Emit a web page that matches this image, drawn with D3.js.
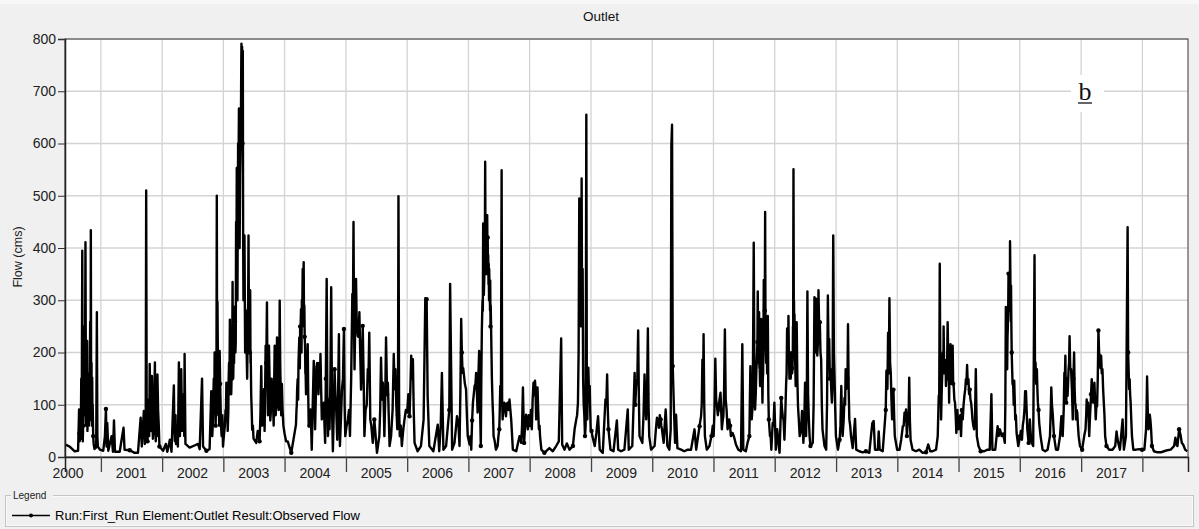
<!DOCTYPE html>
<html>
<head>
<meta charset="utf-8">
<script src="https://cdn.jsdelivr.net/npm/d3@7"></script>
<style>
  body { margin: 0; background: #f0f0f0; }
  svg { display: block; font-family: "Liberation Sans", Arial, sans-serif; }
</style>
</head>
<body>
<svg id="chart" width="1199" height="529"></svg>
<script>
// Year labels along the time axis and flow ticks on the value axis
const yearLabels = [2000, 2001, 2002, 2003, 2004, 2005, 2006, 2007, 2008, 2009,
                    2010, 2011, 2012, 2013, 2014, 2015, 2016, 2017];
const flowTicks = [0, 100, 200, 300, 400, 500, 600, 700, 800];
const periodStart = "2000-06-01";
const periodEnd = "2018-09-30";

// Observed flow at the outlet (cms): peaks and recession floors
const observedFlow = [
  ["2000-06-01",24],["2000-06-29",20],["2000-07-29",11],["2000-08-18",12],["2000-08-24",91],
  ["2000-08-28",30],["2000-09-06",150],["2000-09-12",395],["2000-09-17",60],["2000-09-23",250],
  ["2000-10-01",411],["2000-10-07",120],["2000-10-11",222],["2000-10-17",80],["2000-10-23",160],
  ["2000-10-29",259],["2000-11-02",434],["2000-11-06",180],["2000-11-10",152],["2000-11-16",40],
  ["2000-11-24",15],["2000-12-08",277],["2000-12-14",20],["2000-12-26",14],["2001-01-15",12],
  ["2001-01-25",40],["2001-01-31",92],["2001-02-04",20],["2001-02-08",65],["2001-02-14",12],
  ["2001-03-06",40],["2001-03-14",10],["2001-03-20",70],["2001-03-26",10],["2001-04-23",10],
  ["2001-05-16",56],["2001-05-22",14],["2001-06-22",13],["2001-07-21",8],["2001-08-10",8],
  ["2001-08-26",75],["2001-09-02",20],["2001-09-14",88],["2001-09-20",25],["2001-09-28",510],
  ["2001-10-03",40],["2001-10-09",60],["2001-10-19",178],["2001-10-25",50],["2001-11-01",155],
  ["2001-11-07",35],["2001-11-13",100],["2001-11-19",181],["2001-11-24",30],["2001-12-04",158],
  ["2001-12-12",60],["2001-12-16",20],["2002-01-07",12],["2002-01-23",25],["2002-02-01",10],
  ["2002-02-16",33],["2002-02-26",10],["2002-03-12",137],["2002-03-18",30],["2002-03-28",52],
  ["2002-04-05",20],["2002-04-11",181],["2002-04-17",40],["2002-04-25",168],["2002-05-01",50],
  ["2002-05-15",197],["2002-05-20",25],["2002-06-14",18],["2002-07-13",22],["2002-08-03",25],
  ["2002-08-13",15],["2002-08-27",150],["2002-09-02",20],["2002-09-22",12],["2002-10-11",15],
  ["2002-10-21",126],["2002-10-27",40],["2002-11-05",150],["2002-11-10",200],["2002-11-16",60],
  ["2002-11-23",500],["2002-11-27",297],["2002-12-02",80],["2002-12-10",203],["2002-12-18",60],
  ["2002-12-30",20],["2003-01-10",60],["2003-01-19",142],["2003-01-27",50],["2003-02-09",263],
  ["2003-02-17",120],["2003-02-25",335],["2003-03-01",150],["2003-03-08",287],["2003-03-14",200],
  ["2003-03-18",450],["2003-03-22",553],["2003-03-26",300],["2003-03-30",600],["2003-04-04",667],
  ["2003-04-08",400],["2003-04-14",594],["2003-04-18",760],["2003-04-19",791],["2003-04-23",785],
  ["2003-04-27",777],["2003-05-01",300],["2003-05-07",424],["2003-05-11",200],["2003-05-17",232],
  ["2003-05-23",150],["2003-05-31",424],["2003-06-06",250],["2003-06-10",319],["2003-06-16",120],
  ["2003-06-22",52],["2003-06-30",35],["2003-07-16",27],["2003-07-25",50],["2003-08-05",30],
  ["2003-08-15",174],["2003-08-21",60],["2003-08-29",110],["2003-09-04",50],["2003-09-10",213],
  ["2003-09-18",296],["2003-09-24",80],["2003-09-30",213],["2003-10-08",70],["2003-10-16",150],
  ["2003-10-24",104],["2003-11-03",213],["2003-11-09",80],["2003-11-17",229],["2003-11-23",120],
  ["2003-12-03",299],["2003-12-09",120],["2003-12-16",140],["2003-12-25",60],["2004-01-10",30],
  ["2004-01-20",30],["2004-02-10",8],["2004-03-09",62],["2004-03-19",149],["2004-03-29",229],
  ["2004-04-08",283],["2004-04-18",360],["2004-04-24",373],["2004-05-02",213],["2004-05-08",120],
  ["2004-05-18",216],["2004-05-24",59],["2004-06-04",91],["2004-06-11",14],["2004-06-23",184],
  ["2004-07-01",53],["2004-07-09",174],["2004-07-17",178],["2004-07-25",155],["2004-08-02",197],
  ["2004-08-10",72],["2004-08-22",104],["2004-08-30",27],["2004-09-08",341],["2004-09-16",40],
  ["2004-09-25",53],["2004-10-05",325],["2004-10-15",11],["2004-10-25",168],["2004-11-10",33],
  ["2004-11-20",235],["2004-11-26",21],["2004-12-08",129],["2004-12-20",245],["2004-12-28",40],
  ["2005-01-13",72],["2005-01-25",40],["2005-02-08",312],["2005-02-15",450],["2005-02-21",168],
  ["2005-03-02",341],["2005-03-12",232],["2005-03-22",277],["2005-04-01",129],["2005-04-11",251],
  ["2005-04-21",40],["2005-05-11",168],["2005-05-20",238],["2005-05-26",72],["2005-06-10",27],
  ["2005-06-19",72],["2005-07-05",8],["2005-07-19",40],["2005-07-29",190],["2005-08-09",142],
  ["2005-08-18",40],["2005-08-28",229],["2005-09-08",142],["2005-09-18",21],["2005-09-27",40],
  ["2005-10-13",197],["2005-10-23",168],["2005-11-03",53],["2005-11-10",499],["2005-11-18",40],
  ["2005-11-30",21],["2005-12-16",72],["2006-01-01",85],["2006-01-15",78],["2006-01-25",194],
  ["2006-02-04",187],["2006-02-14",27],["2006-03-04",11],["2006-03-24",21],["2006-04-09",72],
  ["2006-04-19",304],["2006-04-27",302],["2006-05-03",117],["2006-05-13",21],["2006-06-06",11],
  ["2006-07-02",62],["2006-07-11",11],["2006-07-27",161],["2006-08-05",14],["2006-08-21",21],
  ["2006-09-04",72],["2006-09-14",331],["2006-09-20",171],["2006-09-26",14],["2006-10-10",27],
  ["2006-10-25",78],["2006-11-09",21],["2006-11-19",264],["2006-11-27",161],["2006-12-04",161],
  ["2006-12-18",129],["2006-12-28",40],["2007-01-08",24],["2007-01-18",14],["2007-01-28",104],
  ["2007-02-07",136],["2007-02-16",161],["2007-02-25",85],["2007-03-06",203],["2007-03-16",21],
  ["2007-03-22",242],["2007-03-30",447],["2007-04-05",335],["2007-04-11",565],["2007-04-17",460],
  ["2007-04-23",463],["2007-04-29",386],["2007-05-05",360],["2007-05-11",338],["2007-05-17",232],
  ["2007-05-25",104],["2007-05-31",40],["2007-06-14",14],["2007-06-24",21],["2007-07-04",53],
  ["2007-07-10",136],["2007-07-18",549],["2007-07-24",72],["2007-08-03",104],["2007-08-13",78],
  ["2007-08-23",104],["2007-09-03",110],["2007-09-13",72],["2007-09-23",14],["2007-10-13",11],
  ["2007-11-02",40],["2007-11-12",27],["2007-11-22",133],["2007-11-29",27],["2007-12-11",81],
  ["2007-12-21",53],["2008-01-04",59],["2008-01-14",53],["2008-01-24",142],["2008-02-02",146],
  ["2008-02-09",72],["2008-02-17",133],["2008-02-25",53],["2008-03-03",40],["2008-03-11",14],
  ["2008-03-29",8],["2008-04-18",14],["2008-04-28",17],["2008-05-18",11],["2008-06-07",21],
  ["2008-06-23",30],["2008-07-07",227],["2008-07-13",24],["2008-07-27",14],["2008-08-10",26],
  ["2008-08-26",14],["2008-09-15",21],["2008-09-25",53],["2008-10-05",72],["2008-10-15",104],
  ["2008-10-23",495],["2008-10-31",424],["2008-11-06",533],["2008-11-12",360],["2008-11-18",104],
  ["2008-11-26",40],["2008-12-04",655],["2008-12-10",72],["2008-12-16",171],["2008-12-24",136],
  ["2008-12-30",53],["2009-01-09",40],["2009-01-23",21],["2009-02-02",46],["2009-02-12",78],
  ["2009-02-22",14],["2009-03-12",8],["2009-03-28",110],["2009-04-07",158],["2009-04-15",53],
  ["2009-04-27",14],["2009-05-15",11],["2009-06-04",70],["2009-06-12",14],["2009-06-29",11],
  ["2009-07-19",14],["2009-08-08",91],["2009-08-14",14],["2009-09-04",21],["2009-09-18",161],
  ["2009-09-27",136],["2009-10-09",242],["2009-10-17",40],["2009-11-03",27],["2009-11-16",158],
  ["2009-11-26",72],["2009-12-06",246],["2009-12-14",40],["2009-12-25",14],["2010-01-15",21],
  ["2010-01-29",75],["2010-02-10",56],["2010-02-20",72],["2010-02-28",53],["2010-03-10",27],
  ["2010-03-22",91],["2010-04-01",21],["2010-04-13",14],["2010-04-21",53],["2010-04-25",597],
  ["2010-04-29",636],["2010-05-03",174],["2010-05-11",85],["2010-05-17",27],["2010-05-23",81],
  ["2010-05-31",17],["2010-06-22",14],["2010-07-11",11],["2010-08-01",14],["2010-08-20",14],
  ["2010-09-10",53],["2010-09-20",14],["2010-10-10",59],["2010-10-19",78],["2010-10-27",186],
  ["2010-11-03",235],["2010-11-11",40],["2010-11-22",14],["2010-12-08",21],["2010-12-20",40],
  ["2011-01-02",40],["2011-01-12",188],["2011-01-22",97],["2011-02-01",94],["2011-02-12",123],
  ["2011-02-20",53],["2011-03-01",78],["2011-03-10",244],["2011-03-20",91],["2011-03-26",53],
  ["2011-04-05",72],["2011-04-15",40],["2011-04-25",46],["2011-05-05",37],["2011-05-15",24],
  ["2011-05-29",14],["2011-06-14",11],["2011-06-22",216],["2011-06-28",14],["2011-07-13",11],
  ["2011-07-23",27],["2011-08-03",40],["2011-08-09",174],["2011-08-17",72],["2011-08-29",410],
  ["2011-09-06",91],["2011-09-14",168],["2011-09-22",317],["2011-09-30",277],["2011-10-06",136],
  ["2011-10-14",264],["2011-10-20",104],["2011-10-28",339],["2011-11-05",469],["2011-11-13",219],
  ["2011-11-21",270],["2011-11-27",72],["2011-12-04",40],["2011-12-12",14],["2011-12-20",65],
  ["2011-12-30",104],["2012-01-08",14],["2012-01-16",53],["2012-01-30",8],["2012-02-09",113],
  ["2012-02-18",78],["2012-02-28",33],["2012-03-09",139],["2012-03-15",246],["2012-03-23",270],
  ["2012-03-31",168],["2012-04-08",174],["2012-04-16",168],["2012-04-22",551],["2012-04-28",273],
  ["2012-05-05",136],["2012-05-11",258],["2012-05-19",97],["2012-05-29",40],["2012-06-12",88],
  ["2012-06-20",27],["2012-06-30",142],["2012-07-06",40],["2012-07-14",317],["2012-07-22",78],
  ["2012-08-01",21],["2012-08-15",27],["2012-08-25",306],["2012-09-03",303],["2012-09-11",194],
  ["2012-09-18",319],["2012-09-26",258],["2012-10-04",187],["2012-10-12",53],["2012-10-24",21],
  ["2012-11-03",14],["2012-11-13",309],["2012-11-21",226],["2012-11-29",168],["2012-12-07",104],
  ["2012-12-15",424],["2012-12-23",149],["2012-12-31",40],["2013-01-12",14],["2013-01-22",33],
  ["2013-02-01",136],["2013-02-09",40],["2013-02-20",113],["2013-02-27",168],["2013-03-07",161],
  ["2013-03-13",254],["2013-03-21",72],["2013-03-31",40],["2013-04-10",17],["2013-04-24",73],
  ["2013-05-01",14],["2013-05-19",11],["2013-06-09",9],["2013-06-28",11],["2013-07-18",8],
  ["2013-07-28",40],["2013-08-05",65],["2013-08-13",69],["2013-08-21",14],["2013-09-07",14],
  ["2013-09-12",49],["2013-09-18",14],["2013-10-06",11],["2013-10-20",72],["2013-10-28",165],
  ["2013-11-07",238],["2013-11-15",304],["2013-11-23",161],["2013-12-01",72],["2013-12-09",129],
  ["2013-12-17",40],["2013-12-31",14],["2014-01-14",14],["2014-01-24",33],["2014-02-03",59],
  ["2014-02-13",85],["2014-02-22",91],["2014-02-27",40],["2014-03-07",72],["2014-03-13",152],
  ["2014-03-21",33],["2014-04-02",14],["2014-04-22",11],["2014-05-12",14],["2014-06-01",8],
  ["2014-06-21",9],["2014-07-04",24],["2014-07-16",11],["2014-07-30",11],["2014-08-20",14],
  ["2014-08-30",40],["2014-09-05",117],["2014-09-11",370],["2014-09-19",72],["2014-09-27",168],
  ["2014-10-04",250],["2014-10-10",184],["2014-10-18",136],["2014-10-28",258],["2014-11-06",104],
  ["2014-11-14",216],["2014-11-21",213],["2014-11-27",213],["2014-12-03",136],["2014-12-11",104],
  ["2014-12-19",46],["2014-12-31",53],["2015-01-06",72],["2015-01-16",40],["2015-01-26",72],
  ["2015-02-05",117],["2015-02-14",149],["2015-02-21",176],["2015-03-01",149],["2015-03-09",129],
  ["2015-03-17",104],["2015-03-25",72],["2015-04-04",53],["2015-04-14",168],["2015-04-20",40],
  ["2015-04-30",21],["2015-05-13",11],["2015-06-03",11],["2015-06-23",14],["2015-07-06",14],
  ["2015-07-16",120],["2015-07-22",14],["2015-08-08",14],["2015-08-22",59],["2015-08-28",40],
  ["2015-09-05",53],["2015-09-15",40],["2015-09-25",43],["2015-10-04",27],["2015-10-10",287],
  ["2015-10-18",168],["2015-10-26",351],["2015-11-04",413],["2015-11-10",328],["2015-11-15",187],
  ["2015-11-23",136],["2015-11-29",146],["2015-12-05",72],["2015-12-13",46],["2015-12-23",21],
  ["2016-01-03",40],["2016-01-14",33],["2016-01-24",72],["2016-02-02",126],["2016-02-07",126],
  ["2016-02-15",53],["2016-02-23",27],["2016-03-01",72],["2016-03-09",30],["2016-03-21",21],
  ["2016-03-29",386],["2016-04-04",181],["2016-04-12",168],["2016-04-18",104],["2016-04-26",65],
  ["2016-05-04",40],["2016-05-16",14],["2016-06-01",11],["2016-06-15",14],["2016-06-29",40],
  ["2016-07-07",133],["2016-07-15",85],["2016-07-23",40],["2016-08-04",14],["2016-08-16",14],
  ["2016-08-28",40],["2016-09-05",78],["2016-09-13",40],["2016-09-23",161],["2016-09-29",194],
  ["2016-10-04",104],["2016-10-12",117],["2016-10-18",168],["2016-10-24",231],["2016-11-02",168],
  ["2016-11-12",72],["2016-11-20",200],["2016-11-26",104],["2016-12-01",72],["2016-12-09",85],
  ["2016-12-17",40],["2016-12-25",21],["2017-01-07",14],["2017-01-19",40],["2017-01-27",53],
  ["2017-02-03",110],["2017-02-11",104],["2017-02-18",40],["2017-02-27",104],["2017-03-05",149],
  ["2017-03-13",104],["2017-03-21",142],["2017-03-29",72],["2017-04-06",97],["2017-04-14",242],
  ["2017-04-22",194],["2017-04-30",194],["2017-05-08",168],["2017-05-16",104],["2017-05-24",40],
  ["2017-06-01",21],["2017-06-17",14],["2017-07-07",14],["2017-07-23",21],["2017-07-31",49],
  ["2017-08-08",30],["2017-08-20",14],["2017-09-05",72],["2017-09-13",14],["2017-09-25",40],
  ["2017-10-05",440],["2017-10-11",168],["2017-10-17",149],["2017-10-23",104],["2017-10-31",40],
  ["2017-11-08",14],["2017-11-24",14],["2017-12-14",15],["2017-12-30",14],["2018-01-13",14],
  ["2018-01-23",53],["2018-01-29",154],["2018-02-06",53],["2018-02-14",81],["2018-02-22",53],
  ["2018-02-27",21],["2018-03-11",11],["2018-04-01",9],["2018-04-21",9],["2018-05-10",11],
  ["2018-05-30",13],["2018-06-19",14],["2018-07-09",21],["2018-07-17",37],["2018-07-23",24],
  ["2018-07-29",21],["2018-08-08",53],["2018-08-16",43],["2018-08-24",27],["2018-09-01",24],
  ["2018-09-13",14],["2018-09-27",11]
];

// Intermediate daily readings inside the wet seasons
const wetSeasonFlow = [
  ["2000-08-26",45],["2000-08-31",70],["2000-09-03",35],["2000-09-09",110],["2000-09-14",90],
  ["2000-09-15",30],["2000-09-20",130],["2000-09-26",80],["2000-09-28",150],["2000-10-04",60],
  ["2000-10-09",140],["2000-10-13",50],["2000-10-15",130],["2000-10-20",110],["2000-10-25",70],
  ["2000-10-27",150],["2000-10-31",120],["2000-11-04",90],["2000-11-08",60],["2000-11-13",100],
  ["2000-11-19",25],["2000-11-28",20],["2000-12-04",18],["2000-12-11",40],
  ["2001-09-25",30],["2001-10-01",90],["2001-10-06",30],["2001-10-13",110],["2001-10-16",40],
  ["2001-10-22",120],["2001-10-28",60],["2001-11-04",100],["2001-11-10",50],["2001-11-16",130],
  ["2001-11-21",70],["2001-11-28",80],["2001-12-01",40],["2001-12-08",90],
  ["2002-03-15",60],["2002-03-22",80],["2002-03-25",25],["2002-04-01",40],["2002-04-08",100],
  ["2002-04-14",60],["2002-04-21",90],["2002-04-28",100],["2002-05-05",70],["2002-05-10",120],
  ["2002-05-13",40],
  ["2002-10-24",60],["2002-10-31",70],["2002-11-02",110],["2002-11-08",90],["2002-11-13",130],
  ["2002-11-19",110],["2002-11-21",180],["2002-11-25",150],["2002-11-30",160],["2002-12-05",120],
  ["2002-12-07",60],["2002-12-13",140],["2002-12-15",110],["2002-12-22",40],["2002-12-26",80],
  ["2003-01-04",40],["2003-01-14",90],["2003-01-23",110],["2003-01-31",90],["2003-02-04",180],
  ["2003-02-13",200],["2003-02-21",230],["2003-02-27",160],["2003-03-04",250],["2003-03-06",180],
  ["2003-03-11",260],["2003-03-16",220],["2003-03-20",350],["2003-03-24",480],["2003-03-28",450],
  ["2003-04-01",520],["2003-04-06",500],["2003-04-11",540],["2003-04-16",650],["2003-04-21",700],
  ["2003-04-25",600],["2003-04-29",420],["2003-05-03",380],["2003-05-05",330],["2003-05-09",300],
  ["2003-05-14",260],["2003-05-20",200],["2003-05-27",260],["2003-06-02",300],["2003-06-08",200],
  ["2003-06-13",200],["2003-06-19",90],["2003-06-26",60],
  ["2003-08-10",80],["2003-08-18",110],["2003-08-25",90],["2003-09-01",130],["2003-09-07",120],
  ["2003-09-14",180],["2003-09-21",150],["2003-09-27",130],["2003-10-03",160],["2003-10-12",90],
  ["2003-10-20",120],["2003-10-28",60],["2003-10-31",140],["2003-11-06",130],["2003-11-13",100],
  ["2003-11-20",160],["2003-11-27",90],["2003-11-30",150],["2003-12-06",180],["2003-12-12",80],
  ["2003-12-20",90],["2004-01-01",45],
  ["2004-03-14",100],["2004-03-24",180],["2004-04-03",250],["2004-04-13",300],["2004-04-21",330],
  ["2004-04-28",290],["2004-05-05",170],["2004-05-13",160],["2004-05-21",120],["2004-05-29",60],
  ["2004-06-08",50],["2004-06-17",100],["2004-06-27",120],["2004-07-05",110],["2004-07-13",130],
  ["2004-07-21",120],["2004-07-29",140],["2004-08-06",130],["2004-08-16",90],["2004-08-26",60],
  ["2004-09-03",150],["2004-09-12",120],["2004-09-20",110],["2004-09-30",140],["2004-10-10",90],
  ["2004-10-20",80],["2004-10-30",120],["2004-11-04",90],["2004-11-15",120],["2004-11-23",100],
  ["2004-12-03",80],["2004-12-14",150],["2004-12-24",100],["2005-01-05",60],["2005-01-19",90],
  ["2005-02-01",150],["2005-02-12",300],["2005-02-18",260],["2005-02-25",250],["2005-03-06",260],
  ["2005-03-16",230],["2005-03-27",200],["2005-04-06",180],["2005-04-16",160],["2005-04-28",90],
  ["2005-05-05",100],["2005-05-15",150],["2005-06-01",60],
  ["2005-07-24",90],["2005-08-04",110],["2005-08-14",100],["2005-08-23",110],["2005-09-03",120],
  ["2005-09-13",80],["2005-10-06",90],["2005-10-18",130],["2005-10-28",100],["2005-11-07",80],
  ["2005-11-14",90],["2005-11-24",60],["2005-12-08",50],["2005-12-24",90],["2006-01-08",120],
  ["2006-01-20",130],["2006-01-30",150],["2006-02-09",90],
  ["2006-07-20",60],["2006-09-09",90],["2006-10-17",50],["2006-11-03",60],["2006-11-14",120],
  ["2006-11-23",200],["2006-12-01",170],["2006-12-11",140],["2006-12-23",80],["2007-01-13",40],
  ["2007-01-23",70],["2007-02-02",120],["2007-02-12",140],["2007-02-21",120],["2007-03-01",150],
  ["2007-03-11",100],["2007-03-19",150],["2007-03-26",300],["2007-04-02",380],["2007-04-08",420],
  ["2007-04-14",430],["2007-04-20",400],["2007-04-26",420],["2007-05-02",370],["2007-05-08",320],
  ["2007-05-14",290],["2007-05-21",150],["2007-05-28",80],["2007-06-07",30],["2007-06-29",40],
  ["2007-07-07",90],["2007-07-14",120],["2007-07-21",110],["2007-07-29",100],["2007-08-08",90],
  ["2007-08-18",100],["2007-08-28",90],
  ["2007-11-17",60],["2007-12-05",60],["2007-12-16",70],["2007-12-27",80],["2008-01-09",90],
  ["2008-01-19",110],["2008-01-29",120],["2008-02-05",130],["2008-02-13",110],["2008-02-21",90],
  ["2008-02-29",60],
  ["2008-10-10",80],["2008-10-19",200],["2008-10-27",300],["2008-11-03",250],["2008-11-09",300],
  ["2008-11-15",150],["2008-11-22",80],["2008-11-30",60],["2008-12-07",120],["2008-12-13",140],
  ["2008-12-20",120],["2008-12-27",90],["2009-01-04",50],
  ["2009-04-02",100],["2009-04-11",90],["2009-09-22",100],["2009-10-04",150],["2009-10-13",120],
  ["2009-11-10",80],["2009-11-21",110],["2009-12-01",120],["2009-12-10",100],["2010-01-22",50],
  ["2010-02-05",70],["2010-02-15",80],["2010-02-24",60],["2010-03-16",60],
  ["2010-10-15",70],["2010-10-23",100],["2010-10-31",130],["2010-11-07",100],["2010-12-28",60],
  ["2011-01-07",90],["2011-01-17",110],["2011-01-27",80],["2011-02-06",110],["2011-02-16",90],
  ["2011-02-25",70],["2011-03-05",120],["2011-03-15",110],["2011-03-31",60],["2011-04-10",60],
  ["2011-08-13",90],["2011-08-23",100],["2011-09-02",150],["2011-09-10",120],["2011-09-18",200],
  ["2011-09-26",180],["2011-10-03",180],["2011-10-10",150],["2011-10-17",170],["2011-10-24",160],
  ["2011-11-01",240],["2011-11-09",200],["2011-11-17",160],["2011-11-24",120],["2011-12-08",40],
  ["2011-12-25",60],["2012-02-04",60],["2012-02-14",90],["2012-02-23",70],["2012-03-04",80],
  ["2012-03-12",160],["2012-03-19",200],["2012-03-27",180],["2012-04-04",200],["2012-04-12",170],
  ["2012-04-19",250],["2012-04-25",300],["2012-05-01",200],["2012-05-08",180],["2012-05-15",150],
  ["2012-05-24",70],["2012-06-06",50],["2012-06-25",60],["2012-07-10",90],["2012-07-18",120],
  ["2012-07-27",40],["2012-08-20",100],["2012-08-29",200],["2012-09-07",230],["2012-09-15",220],
  ["2012-09-22",250],["2012-09-30",200],["2012-10-08",100],["2012-11-08",100],["2012-11-17",200],
  ["2012-11-25",150],["2012-12-03",130],["2012-12-11",140],["2012-12-19",200],["2012-12-27",90],
  ["2013-01-27",60],["2013-02-05",80],["2013-02-15",70],["2013-02-24",100],["2013-03-03",130],
  ["2013-03-10",150],["2013-03-17",130],["2013-03-26",60],
  ["2013-10-24",90],["2013-11-03",130],["2013-11-11",160],["2013-11-19",180],["2013-11-27",110],
  ["2013-12-05",100],["2013-12-13",80],["2014-02-08",60],["2014-02-18",70],["2014-03-03",60],
  ["2014-03-10",90],["2014-03-17",70],
  ["2014-09-08",120],["2014-09-15",160],["2014-09-23",130],["2014-10-01",160],["2014-10-07",180],
  ["2014-10-14",170],["2014-10-22",150],["2014-11-01",160],["2014-11-10",150],["2014-11-17",140],
  ["2014-11-24",150],["2014-11-30",140],["2014-12-07",110],["2014-12-15",80],["2014-12-25",90],
  ["2015-01-11",80],["2015-01-21",90],["2015-01-31",100],["2015-02-10",130],["2015-02-17",140],
  ["2015-02-25",140],["2015-03-05",120],["2015-03-13",110],["2015-03-21",90],["2015-03-30",60],
  ["2015-04-09",70],
  ["2015-10-07",100],["2015-10-14",200],["2015-10-22",250],["2015-10-30",280],["2015-11-07",300],
  ["2015-11-12",250],["2015-11-19",140],["2015-11-26",100],["2015-12-02",110],["2015-12-09",80],
  ["2016-01-08",50],["2016-01-19",60],["2016-01-29",90],["2016-02-05",100],["2016-02-11",90],
  ["2016-04-01",150],["2016-04-08",140],["2016-04-15",130],["2016-04-22",90],["2016-07-03",80],
  ["2016-07-11",100],
  ["2016-09-19",90],["2016-09-26",150],["2016-10-01",130],["2016-10-08",150],["2016-10-15",140],
  ["2016-10-21",180],["2016-10-28",170],["2016-11-07",130],["2016-11-16",150],["2016-11-23",130],
  ["2016-11-29",100],["2016-12-05",90],["2016-12-13",60],["2017-01-31",80],["2017-02-07",90],
  ["2017-02-15",70],["2017-02-23",80],["2017-03-01",120],["2017-03-09",120],["2017-03-17",110],
  ["2017-03-25",110],["2017-04-02",100],["2017-04-10",150],["2017-04-18",200],["2017-04-26",170],
  ["2017-05-04",160],["2017-05-12",130],["2017-05-20",80],
  ["2017-10-08",200],["2017-10-14",130],["2017-10-20",120],["2017-10-27",70],
  ["2018-01-26",90],["2018-02-02",90],["2018-02-10",60],["2018-02-18",70]
];

// Further daily readings in the densest flood periods
const floodPeriodFlow = [
  ["2000-09-04",80],["2000-09-10",200],["2000-09-19",100],["2000-09-25",180],["2000-10-03",200],
  ["2000-10-05",90],["2000-10-19",140],["2000-10-21",60],["2000-11-01",200],["2000-11-12",80],
  ["2003-01-16",70],["2003-02-01",140],["2003-02-06",120],["2003-02-11",150],["2003-02-15",170],
  ["2003-02-19",150],["2003-02-23",200],["2003-03-03",190],["2003-03-10",210],["2003-03-12",240],
  ["2003-05-13",250],["2003-05-19",280],["2003-05-25",200],["2003-05-29",300],["2003-06-04",220],
  ["2003-06-12",180],
  ["2004-03-12",90],["2004-03-16",130],["2004-03-22",110],["2004-03-26",200],["2004-04-01",170],
  ["2004-04-05",240],["2004-04-11",200],["2004-04-15",260],["2004-04-26",250],["2004-04-30",230],
  ["2004-05-04",160],["2004-05-11",150],["2004-05-15",180],
  ["2007-03-28",280],["2007-04-03",310],["2007-04-07",360],["2007-04-09",400],["2007-04-13",380],
  ["2007-04-16",410],["2007-04-19",350],["2007-04-22",390],["2007-04-25",380],["2007-04-28",350],
  ["2007-05-01",330],["2007-05-04",300],["2007-05-07",310],["2007-05-10",280],["2007-05-13",250],
  ["2008-10-21",350],["2008-10-25",380],["2008-10-29",320],["2008-11-01",330],["2008-11-04",350],
  ["2008-11-08",320],
  ["2011-09-20",220],["2011-09-24",230],["2011-09-28",200],["2011-10-02",170],["2011-10-08",190],
  ["2011-10-12",200],["2011-10-16",140],["2011-10-22",150],["2011-10-26",230],["2011-10-30",250],
  ["2011-11-03",280],["2011-11-07",260],["2011-11-11",180],["2011-11-15",200],["2011-11-19",210],
  ["2012-03-17",220],["2012-03-21",190],["2012-03-25",210],["2012-03-29",150],["2012-04-02",190],
  ["2012-04-06",150],["2012-04-10",200],["2012-04-14",160],["2012-04-18",200],["2012-04-20",230],
  ["2012-04-24",260],["2012-04-27",230],["2012-04-30",220],["2012-05-03",170],["2012-05-06",200],
  ["2014-09-13",250],["2014-09-17",150],["2014-09-25",150],["2014-09-29",200],["2014-10-03",180],
  ["2014-10-06",200],["2014-10-12",160],["2014-10-16",180],["2014-10-20",160],["2014-10-25",180],
  ["2014-10-31",200],["2014-11-04",150],["2014-11-08",170],["2014-11-12",160],["2014-11-19",180],
  ["2015-10-12",230],["2015-10-16",190],["2015-10-20",230],["2015-10-24",280],["2015-10-28",300],
  ["2015-11-01",320],["2015-11-03",300],["2015-11-06",350],["2015-11-09",260],["2015-11-14",200]
];

const parse = d3.utcParse("%Y-%m-%d");
const series = observedFlow.concat(wetSeasonFlow, floodPeriodFlow)
  .map(([d, v]) => ({ date: parse(d), value: v }))
  .sort((a, b) => a.date - b.date);

const svg = d3.select("#chart");
const plot = { left: 65, right: 1188, top: 39, bottom: 457 };

const x = d3.scaleUtc()
  .domain([parse(periodStart), parse(periodEnd)])
  .range([plot.left, plot.right]);
const y = d3.scaleLinear().domain([0, 800]).range([plot.bottom, plot.top]);

// light strip across the very top of the panel
svg.append("rect").attr("x", 0).attr("y", 0).attr("width", 1199).attr("height", 4).attr("fill", "#f7f7f7");

// Title
svg.append("text").attr("x", 601).attr("y", 21).attr("text-anchor", "middle")
  .attr("font-size", 13.5).attr("fill", "#111").text("Outlet");

// Plot background
svg.append("rect").attr("x", plot.left).attr("y", plot.top)
  .attr("width", plot.right - plot.left).attr("height", plot.bottom - plot.top)
  .attr("fill", "#fff");

// Year boundaries
const yearStarts = d3.range(2001, 2019).map(yr => new Date(Date.UTC(yr, 0, 1)));

// Grid
const grid = svg.append("g").attr("stroke", "#d4d4d4").attr("stroke-width", 1.3);
grid.selectAll("line.h").data(flowTicks.slice(1)).join("line")
  .attr("x1", plot.left).attr("x2", plot.right)
  .attr("y1", d => y(d)).attr("y2", d => y(d));
grid.selectAll("line.v").data(yearStarts).join("line")
  .attr("x1", d => x(d)).attr("x2", d => x(d))
  .attr("y1", plot.top).attr("y2", plot.bottom);

// Annotation panel label with its own white backing
svg.append("rect").attr("x", 1071).attr("y", 75).attr("width", 33).attr("height", 37).attr("fill", "#fff");
svg.append("text").attr("x", 1085).attr("y", 100).attr("text-anchor", "middle")
  .attr("font-family", "'Liberation Serif', 'Times New Roman', serif")
  .attr("font-size", 26).attr("fill", "#111").text("b");
svg.append("line").attr("x1", 1078).attr("x2", 1092).attr("y1", 103).attr("y2", 103)
  .attr("stroke", "#111").attr("stroke-width", 1.3);

// Flow series
svg.append("clipPath").attr("id", "plotClip").append("rect")
  .attr("x", plot.left).attr("y", plot.top - 2)
  .attr("width", plot.right - plot.left).attr("height", plot.bottom - plot.top + 2);

const line = d3.line().x(d => x(d.date)).y(d => y(d.value));
const seriesG = svg.append("g").attr("clip-path", "url(#plotClip)");
seriesG.append("path").datum(series)
  .attr("d", line)
  .attr("fill", "none").attr("stroke", "#000")
  .attr("stroke-width", 2.4).attr("stroke-linejoin", "round");
seriesG.selectAll("circle").data(series.filter((d, i) => i % 11 === 5)).join("circle")
  .attr("cx", d => x(d.date)).attr("cy", d => y(d.value)).attr("r", 2.2).attr("fill", "#000");

// Frame
svg.append("rect").attr("x", plot.left).attr("y", plot.top)
  .attr("width", plot.right - plot.left).attr("height", plot.bottom - plot.top)
  .attr("fill", "none").attr("stroke", "#555").attr("stroke-width", 1.2);

// Y axis
const yAxis = d3.axisLeft(y).tickValues(flowTicks).tickSize(7).tickPadding(2).tickFormat(d3.format("d"));
const yg = svg.append("g").attr("transform", `translate(${plot.left},0)`).call(yAxis);
yg.select(".domain").attr("stroke", "#222").attr("stroke-width", 1.5);
yg.selectAll(".tick line").attr("stroke", "#333");
yg.selectAll(".tick text").attr("font-size", 14).attr("fill", "#222")
  .attr("font-family", "'Liberation Sans', Arial, sans-serif");

svg.append("text")
  .attr("transform", "translate(22,257) rotate(-90)")
  .attr("text-anchor", "middle").attr("font-size", 12.5).attr("fill", "#222")
  .text("Flow (cms)");

// X axis: ticks at year starts, labels centred in each year
const xAxis = d3.axisBottom(x).tickValues(yearStarts).tickSize(15).tickFormat("");
const xg = svg.append("g").attr("transform", `translate(0,${plot.bottom})`).call(xAxis);
xg.select(".domain").attr("stroke", "#222").attr("stroke-width", 1.5);
xg.selectAll(".tick line").attr("stroke", "#444").attr("stroke-width", 1.3);

svg.append("g").selectAll("text").data(yearLabels).join("text")
  .attr("x", yr => x(new Date(Date.UTC(yr, 6, 1))) - (yr === 2000 ? 2 : 0))
  .attr("y", 478)
  .attr("text-anchor", "middle").attr("font-size", 14).attr("fill", "#222")
  .text(yr => yr);

// Legend group box
const lg = svg.append("g");
lg.append("rect").attr("x", 5.5).attr("y", 495.5).attr("width", 1188).attr("height", 31)
  .attr("fill", "none").attr("stroke", "#c4c4c4");
lg.append("rect").attr("x", 6.5).attr("y", 496.5).attr("width", 1186).attr("height", 29)
  .attr("fill", "none").attr("stroke", "#fafafa");
lg.append("rect").attr("x", 11).attr("y", 490).attr("width", 42).attr("height", 12).attr("fill", "#f0f0f0");
lg.append("text").attr("x", 13).attr("y", 499).attr("font-size", 10).attr("fill", "#222").text("Legend");
lg.append("line").attr("x1", 12).attr("x2", 50).attr("y1", 515.5).attr("y2", 515.5)
  .attr("stroke", "#000").attr("stroke-width", 1.5);
lg.append("circle").attr("cx", 31).attr("cy", 515.5).attr("r", 2).attr("fill", "#000");
lg.append("text").attr("x", 55).attr("y", 520).attr("font-size", 13).attr("fill", "#000")
  .text("Run:First_Run Element:Outlet Result:Observed Flow");
</script>
</body>
</html>
